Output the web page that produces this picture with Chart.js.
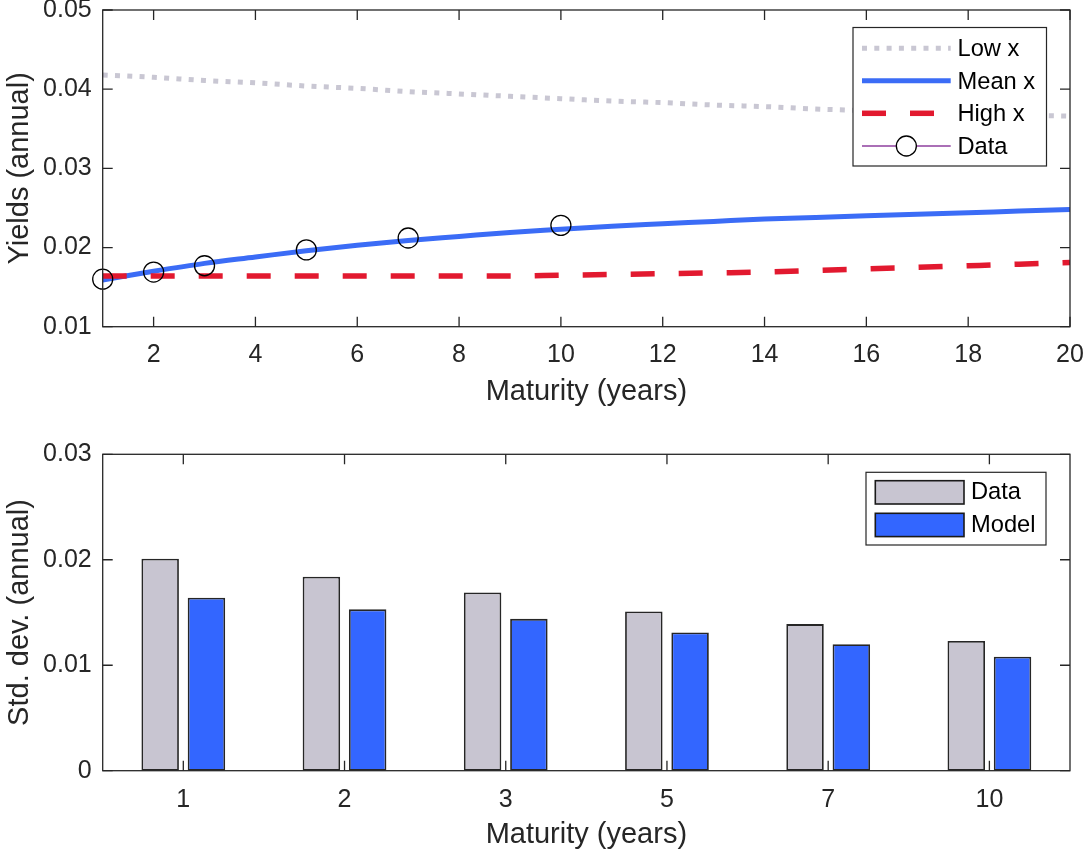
<!DOCTYPE html>
<html><head><meta charset="utf-8">
<script src="https://cdn.jsdelivr.net/npm/chart.js@4"></script>
<style>
html,body{margin:0;padding:0;background:#fff;overflow:hidden;width:1084px;height:853px;}
#top{position:absolute;left:0;top:-20px;width:1104px;height:440px;}
#bot{position:absolute;left:0;top:420px;width:1104px;height:433px;}
</style></head><body>
<div id="top"><canvas id="c1"></canvas></div>
<div id="bot"><canvas id="c2"></canvas></div>
<script>
// ---- data ----
const maturityGrid = [1,2,3,4,5,6,7,8,9,10,11,12,13,14,15,16,17,18,19,20];
const lowX  = [0.0418,0.0415,0.0411,0.0408,0.0404,0.0401,0.0397,0.0394,0.0391,0.0388,0.0385,0.0383,0.0380,0.0378,0.0375,0.0373,0.0371,0.0369,0.0367,0.0366];
const meanX = [0.0159,0.0170,0.0180,0.0188,0.0196,0.0203,0.0209,0.0214,0.0219,0.0223,0.0227,0.0230,0.0233,0.0236,0.0238,0.0240,0.0242,0.0244,0.0246,0.0248];
const highX = [0.0164,0.0164,0.0164,0.0164,0.0164,0.0164,0.0164,0.0164,0.0164,0.0165,0.0166,0.0167,0.0168,0.0169,0.0171,0.0173,0.0175,0.0177,0.0179,0.0181];
const dataMaturity = [1,2,3,5,7,10];
const dataYield = [0.0160,0.0169,0.0177,0.0197,0.0212,0.0228];
const yieldTicks = [0.01,0.02,0.03,0.04,0.05];
const maturityTicks = [2,4,6,8,10,12,14,16,18,20];
const barCategories = ['1','2','3','5','7','10'];
const stdData  = [0.0201,0.0184,0.0169,0.0151,0.0139,0.0123];
const stdModel = [0.0164,0.0153,0.0144,0.0131,0.0120,0.0108];
const stdTicks = [0,0.01,0.02,0.03];

const FONT = '"Liberation Sans", Arial, Helvetica, sans-serif';
Chart.defaults.font.family = FONT;
const AX = '#262626';
const GRAY = '#c9c7d3', BLUE = '#3b6cf6', RED = '#e2192f', PURPLE = '#8e3f9e';
const BARGRAY = '#c8c5d1', BARBLUE = '#3366ff';

const framePlugin = {
  id: 'frame',
  afterDatasetsDraw(chart) {
    const {ctx, chartArea: a, scales} = chart;
    ctx.save();
    ctx.strokeStyle = AX; ctx.lineWidth = 1.3;
    ctx.strokeRect(a.left, a.top, a.right - a.left, a.bottom - a.top);
    const L = 10;
    ctx.beginPath();
    scales.x.ticks.forEach((t, i) => {
      const px = scales.x.getPixelForTick(i);
      ctx.moveTo(px, a.bottom); ctx.lineTo(px, a.bottom - L);
      ctx.moveTo(px, a.top); ctx.lineTo(px, a.top + L);
    });
    scales.y.ticks.forEach((t, i) => {
      const py = scales.y.getPixelForTick(i);
      ctx.moveTo(a.left, py); ctx.lineTo(a.left + L, py);
      ctx.moveTo(a.right, py); ctx.lineTo(a.right - L, py);
    });
    ctx.stroke();
    ctx.restore();
  }
};

function legendText(ctx, txt, x, y) {
  ctx.fillStyle = '#000';
  ctx.font = '23.7px ' + FONT;
  ctx.textBaseline = 'middle';
  ctx.textAlign = 'left';
  ctx.fillText(txt, x, y);
}

const legendTop = {
  id: 'legendTop',
  afterDraw(chart) {
    const ctx = chart.ctx;
    const oy = 20; // canvas offset
    ctx.save();
    ctx.fillStyle = '#fff';
    ctx.fillRect(853, 27.5 + oy, 193.5, 138.5);
    ctx.strokeStyle = AX; ctx.lineWidth = 1.2;
    ctx.strokeRect(853, 27.5 + oy, 193.5, 138.5);
    const x0 = 862, x1 = 950.7, tx = 957.5;
    const rows = [48.3, 80.7, 113.3, 146].map(v => v + oy);
    ctx.lineCap = 'butt';
    ctx.strokeStyle = GRAY; ctx.lineWidth = 5; ctx.setLineDash([5, 7.3]);
    ctx.beginPath(); ctx.moveTo(x0, rows[0]); ctx.lineTo(x1, rows[0]); ctx.stroke();
    ctx.strokeStyle = BLUE; ctx.setLineDash([]);
    ctx.beginPath(); ctx.moveTo(x0, rows[1]); ctx.lineTo(x1, rows[1]); ctx.stroke();
    ctx.strokeStyle = RED; ctx.lineWidth = 5.5; ctx.setLineDash([24, 24]);
    ctx.beginPath(); ctx.moveTo(x0, rows[2]); ctx.lineTo(x1, rows[2]); ctx.stroke();
    ctx.setLineDash([]);
    ctx.strokeStyle = PURPLE; ctx.lineWidth = 1.5;
    ctx.beginPath(); ctx.moveTo(x0, rows[3]); ctx.lineTo(x1, rows[3]); ctx.stroke();
    ctx.fillStyle = '#fff'; ctx.strokeStyle = '#000'; ctx.lineWidth = 1.3;
    ctx.beginPath(); ctx.arc((x0 + x1) / 2, rows[3], 10, 0, Math.PI * 2); ctx.fill(); ctx.stroke();
    const labels = ['Low x', 'Mean x', 'High x', 'Data'];
    labels.forEach((l, i) => legendText(ctx, l, tx, rows[i] + 1.5));
    ctx.restore();
  }
};

const legendBot = {
  id: 'legendBot',
  afterDraw(chart) {
    const ctx = chart.ctx;
    const oy = -420;
    ctx.save();
    ctx.fillStyle = '#fff';
    ctx.fillRect(866, 472.3 + oy, 180, 72.7);
    ctx.strokeStyle = AX; ctx.lineWidth = 1.2;
    ctx.strokeRect(866, 472.3 + oy, 180, 72.7);
    ctx.lineWidth = 1.6; ctx.strokeStyle = '#1a1a1a';
    ctx.fillStyle = BARGRAY;
    ctx.fillRect(875.3, 480.7 + oy, 88.7, 23.3); ctx.strokeRect(875.3, 480.7 + oy, 88.7, 23.3);
    ctx.fillStyle = BARBLUE;
    ctx.fillRect(875.3, 513.3 + oy, 88.7, 23.3); ctx.strokeRect(875.3, 513.3 + oy, 88.7, 23.3);
    legendText(ctx, 'Data', 971, 492.5 + oy);
    legendText(ctx, 'Model', 971, 525.3 + oy);
    ctx.restore();
  }
};

const tickFont = {size: 25};
const titleFont = {size: 29};

new Chart(document.getElementById('c1'), {
  type: 'line',
  data: {
    datasets: [
      {label: 'Data', data: dataMaturity.map((m, i) => ({x: m, y: dataYield[i]})),
       showLine: false, pointRadius: 10, pointHoverRadius: 10, pointBorderColor: '#000',
       pointBackgroundColor: 'rgba(0,0,0,0)', pointBorderWidth: 1.3, borderColor: PURPLE,
       order: 0, clip: false},
      {label: 'High x', data: maturityGrid.map((m, i) => ({x: m, y: highX[i]})),
       borderColor: RED, borderWidth: 5.5, borderDash: [24, 24], pointRadius: 0, order: 1},
      {label: 'Mean x', data: maturityGrid.map((m, i) => ({x: m, y: meanX[i]})),
       borderColor: BLUE, borderWidth: 5, pointRadius: 0, order: 2},
      {label: 'Low x', data: maturityGrid.map((m, i) => ({x: m, y: lowX[i]})),
       borderColor: GRAY, borderWidth: 5, borderDash: [5, 7.3], pointRadius: 0, order: 3}
    ]
  },
  options: {
    responsive: true, maintainAspectRatio: false, animation: false,
    layout: {padding: {top: 30, right: 34, left: 0, bottom: 0}},
    plugins: {legend: {display: false}, tooltip: {enabled: false}},
    elements: {line: {cubicInterpolationMode: 'monotone', borderCapStyle: 'butt', fill: false}},
    scales: {
      x: {
        type: 'linear', min: 1, max: 20,
        afterBuildTicks: s => { s.ticks = maturityTicks.map(v => ({value: v})); },
        afterFit: s => { s.height = 93.3; },
        grid: {display: false, drawTicks: false}, border: {display: false},
        ticks: {padding: 13, color: AX, font: tickFont, maxRotation: 0, autoSkip: false, callback: v => String(v)},
        title: {display: true, text: 'Maturity (years)', color: AX, font: titleFont, padding: {top: 0, bottom: 11}}
      },
      y: {
        min: 0.01, max: 0.05,
        afterBuildTicks: s => { s.ticks = yieldTicks.map(v => ({value: v})); },
        afterFit: s => { s.width = 102.7; },
        grid: {display: false, drawTicks: false}, border: {display: false},
        ticks: {padding: 11, color: AX, font: tickFont, callback: v => String(v)},
        title: {display: true, text: 'Yields (annual)', color: AX, font: titleFont, padding: {top: 3, bottom: 0}}
      }
    }
  },
  plugins: [framePlugin, legendTop]
});

new Chart(document.getElementById('c2'), {
  type: 'bar',
  data: {
    labels: barCategories,
    datasets: [
      {label: 'Data', data: stdData, backgroundColor: BARGRAY, borderColor: '#262626', borderWidth: 1.8, borderSkipped: false},
      {label: 'Model', data: stdModel, backgroundColor: BARBLUE, borderColor: '#262626', borderWidth: 1.8, borderSkipped: false}
    ]
  },
  options: {
    responsive: true, maintainAspectRatio: false, animation: false,
    layout: {padding: {top: 34.3, right: 34, left: 0, bottom: 0}},
    plugins: {legend: {display: false}, tooltip: {enabled: false}},
    datasets: {bar: {categoryPercentage: 0.574, barPercentage: 0.81}},
    scales: {
      x: {
        afterFit: s => { s.height = 82.3; },
        grid: {display: false, drawTicks: false}, border: {display: false},
        ticks: {padding: 14, color: AX, font: tickFont, maxRotation: 0, autoSkip: false},
        title: {display: true, text: 'Maturity (years)', color: AX, font: titleFont, padding: {top: 0, bottom: 1}}
      },
      y: {
        min: 0, max: 0.03,
        afterBuildTicks: s => { s.ticks = stdTicks.map(v => ({value: v})); },
        afterFit: s => { s.width = 102.7; },
        grid: {display: false, drawTicks: false}, border: {display: false},
        ticks: {padding: 11, color: AX, font: tickFont, callback: v => String(v)},
        title: {display: true, text: 'Std. dev. (annual)', color: AX, font: titleFont, padding: {top: 3, bottom: 0}}
      }
    }
  },
  plugins: [framePlugin, legendBot]
});
</script>
</body></html>
